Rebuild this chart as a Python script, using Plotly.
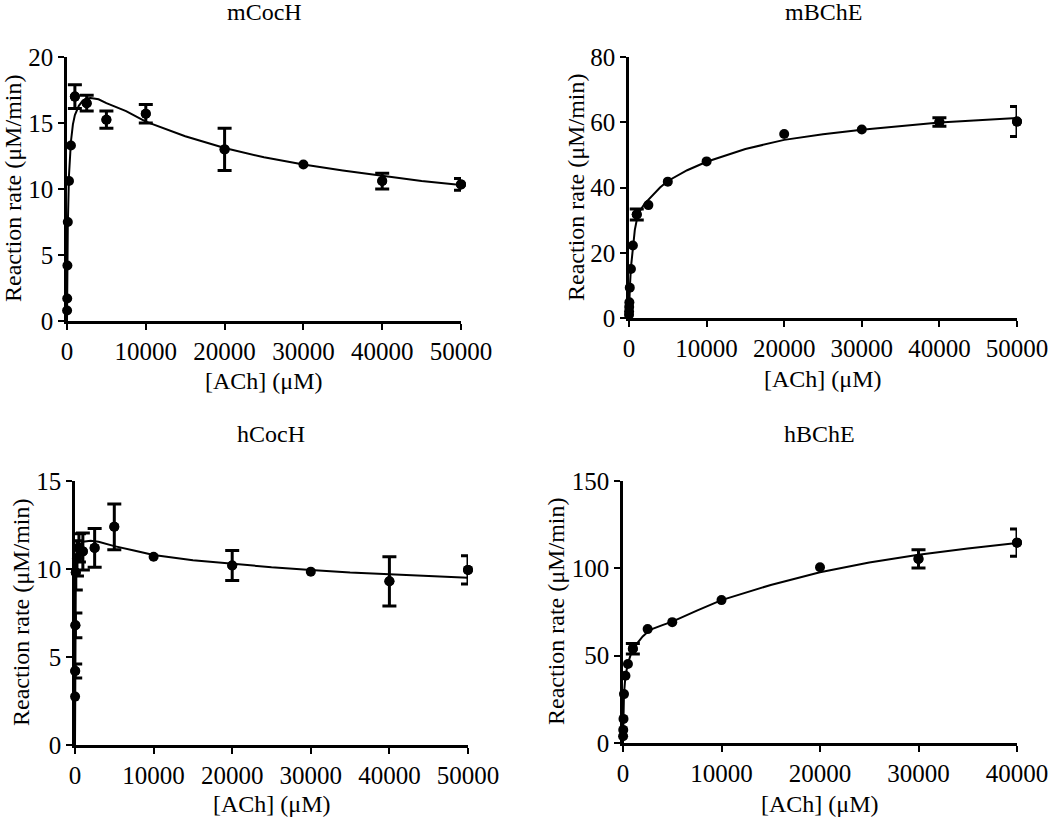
import plotly.graph_objects as go

W, H = 1050, 820
FONT = "Liberation Serif, Times New Roman, serif"

# ---------------- data ----------------
titles = ["mCocH", "mBChE", "hCocH", "hBChE"]
x_title = "[ACh] (μM)"
y_title = "Reaction rate (μM/min)"

# mCocH
mcoch_x = [10, 25, 50, 100, 250, 500, 1000, 2500, 5000, 10000, 20000, 30000, 40000, 50000]
mcoch_y = [0.8, 1.7, 4.2, 7.5, 10.6, 13.3, 17.0, 16.5, 15.25, 15.7, 13.0, 11.85, 10.6, 10.35]
mcoch_err = [None, None, None, None, None, None, 0.9, 0.6, 0.65, 0.7, 1.6, None, 0.6, 0.45]
mcoch_fit_x = [0, 10, 25, 50, 100, 250, 500, 750, 1000, 1500, 2000, 2500, 3000, 4000, 5000,
               7500, 10000, 15000, 20000, 25000, 30000, 35000, 40000, 45000, 50000]
mcoch_fit_y = [0, 0.8, 1.9, 4.0, 7.2, 11.0, 13.6, 14.9, 15.6, 16.3, 16.7, 16.85, 16.9, 16.8, 16.5,
               15.9, 15.1, 14.0, 13.1, 12.4, 11.85, 11.4, 11.0, 10.6, 10.3]

# mBChE
mbche_x = [5, 10, 25, 50, 100, 250, 500, 1000, 2500, 5000, 10000, 20000, 30000, 40000, 50000]
mbche_y = [1.0, 2.0, 3.4, 4.8, 9.3, 15.0, 22.2, 31.7, 34.6, 41.8, 48.0, 56.4, 57.8, 60.1, 60.2]
mbche_err = [None, None, None, None, None, None, None, 1.7, None, None, None, None, None, 1.3, 4.6]
mbche_fit_x = [0, 10, 25, 50, 100, 250, 500, 750, 1000, 1500, 2000, 2500, 3000, 4000, 5000,
               7500, 10000, 15000, 20000, 25000, 30000, 35000, 40000, 45000, 50000]
mbche_fit_y = [0, 1.2, 2.8, 5.2, 9.0, 15.5, 22.5, 27.0, 30.0, 33.2, 35.0, 36.3, 37.6, 40.0, 42.0,
               45.3, 47.9, 51.8, 54.6, 56.3, 57.7, 58.9, 59.9, 60.6, 61.3]

# hCocH
hcoch_x = [10, 25, 50, 100, 250, 500, 1000, 2500, 5000, 10000, 20000, 30000, 40000, 50000]
hcoch_y = [2.75, 4.2, 6.8, 9.8, 10.6, 11.2, 11.0, 11.2, 12.4, 10.7, 10.2, 9.85, 9.3, 9.95]
hcoch_err = [None, 0.4, 0.7, 1.0, 1.0, 0.8, 1.05, 1.1, 1.3, None, 0.85, None, 1.4, 0.8]
hcoch_fit_x = [0, 10, 25, 50, 100, 250, 500, 1000, 2000, 3000, 5000, 7500, 10000, 15000,
               20000, 25000, 30000, 35000, 40000, 45000, 50000]
hcoch_fit_y = [0, 2.7, 5.0, 7.2, 9.2, 10.8, 11.3, 11.55, 11.6, 11.55, 11.3, 11.05, 10.8, 10.5,
               10.3, 10.1, 9.95, 9.8, 9.7, 9.6, 9.5]

# hBChE
hbche_x = [10, 25, 50, 100, 250, 500, 1000, 2500, 5000, 10000, 20000, 30000, 40000]
hbche_y = [3.9, 7.5, 13.8, 28.0, 38.5, 45.2, 54.0, 65.2, 69.2, 81.8, 100.6, 105.4, 114.7]
hbche_err = [None, None, None, None, None, None, 3.0, None, None, None, None, 5.2, 7.8]
hbche_fit_x = [0, 10, 25, 50, 100, 250, 500, 750, 1000, 1500, 2000, 2500, 3000, 4000, 5000,
               7500, 10000, 15000, 20000, 25000, 30000, 35000, 40000]
hbche_fit_y = [0, 4, 7.8, 14, 28, 38.5, 45.5, 50, 53, 57.5, 61, 63.5, 65.3, 67.5, 69.5,
               75.8, 81.8, 90.5, 97.8, 103.3, 107.8, 111.3, 114.5]

x_ticks_50k = [0, 10000, 20000, 30000, 40000, 50000]
x_ticks_40k = [0, 10000, 20000, 30000, 40000]
y_ticks = [[0, 5, 10, 15, 20], [0, 20, 40, 60, 80], [0, 5, 10, 15], [0, 50, 100, 150]]
y_ranges = [[0, 20], [0, 80], [0, 15], [0, 150]]
x_ranges = [[0, 50000], [0, 50000], [0, 50000], [0, 40000]]

# ---------------- layout geometry (pixels) ----------------
# (x_left, x_right, y_top, y_bottom)
boxes = [(67, 461, 57, 321), (629, 1017, 57, 318), (75, 468, 481, 745), (623, 1017, 481, 743)]
title_pos = [(264, 12), (823, 12), (271, 434), (819, 434)]
xtitle_pos = [(264, 381), (823, 379), (272, 804), (820, 804)]
ytitle_pos = [(13, 189), (576, 188), (21, 613), (556, 612)]

series = [
    (mcoch_x, mcoch_y, mcoch_err, mcoch_fit_x, mcoch_fit_y),
    (mbche_x, mbche_y, mbche_err, mbche_fit_x, mbche_fit_y),
    (hcoch_x, hcoch_y, hcoch_err, hcoch_fit_x, hcoch_fit_y),
    (hbche_x, hbche_y, hbche_err, hbche_fit_x, hbche_fit_y),
]

fig = go.Figure()
layout = dict(
    width=W, height=H,
    margin=dict(l=0, r=0, t=0, b=0),
    paper_bgcolor="white", plot_bgcolor="white",
    showlegend=False,
    font=dict(family=FONT, size=24, color="black"),
)
annotations = []

for i, (sx, sy, se, fx, fy) in enumerate(series):
    n = "" if i == 0 else str(i + 1)
    xl, xr, yt, yb = boxes[i]
    xticks = x_ticks_40k if i == 3 else x_ticks_50k
    layout["xaxis" + n] = dict(
        domain=[xl / W, xr / W], anchor="y" + n, range=x_ranges[i],
        showline=True, linecolor="black", linewidth=2.5, mirror=False,
        ticks="outside", ticklen=6, tickwidth=2, tickcolor="black",
        tickvals=xticks, ticktext=[str(v) for v in xticks],
        showgrid=False, zeroline=False, automargin=False,
        tickfont=dict(family=FONT, size=25, color="black"),
    )
    layout["yaxis" + n] = dict(
        domain=[1 - yb / H, 1 - yt / H], anchor="x" + n, range=y_ranges[i],
        showline=True, linecolor="black", linewidth=2.5, mirror=False,
        ticks="outside", ticklen=6, tickwidth=2, tickcolor="black",
        tickvals=y_ticks[i], ticktext=[str(v) for v in y_ticks[i]],
        showgrid=False, zeroline=False, automargin=False,
        tickfont=dict(family=FONT, size=25, color="black"),
    )
    # fitted curve
    fig.add_trace(go.Scatter(
        x=fx, y=fy, mode="lines", line=dict(color="black", width=2),
        xaxis="x" + n, yaxis="y" + n, cliponaxis=False, hoverinfo="skip",
    ))
    # error bars only for points that show them
    ex = [a for a, e in zip(sx, se) if e is not None]
    ey = [b for b, e in zip(sy, se) if e is not None]
    ee = [e for e in se if e is not None]
    fig.add_trace(go.Scatter(
        x=ex, y=ey, mode="markers",
        marker=dict(color="black", size=10, symbol="circle"),
        error_y=dict(type="data", array=ee, visible=True, color="black",
                     thickness=3, width=7),
        xaxis="x" + n, yaxis="y" + n, cliponaxis=False,
    ))
    # all data points
    fig.add_trace(go.Scatter(
        x=sx, y=sy, mode="markers",
        marker=dict(color="black", size=10, symbol="circle"),
        xaxis="x" + n, yaxis="y" + n, cliponaxis=False,
    ))
    tx, ty = title_pos[i]
    annotations.append(dict(text=titles[i], x=tx / W, y=1 - ty / H, xref="paper", yref="paper",
                            showarrow=False, xanchor="center", yanchor="middle",
                            font=dict(family=FONT, size=24, color="black")))
    ax_, ay_ = xtitle_pos[i]
    annotations.append(dict(text=x_title, x=ax_ / W, y=1 - ay_ / H, xref="paper", yref="paper",
                            showarrow=False, xanchor="center", yanchor="middle",
                            font=dict(family=FONT, size=24, color="black")))
    bx, by = ytitle_pos[i]
    annotations.append(dict(text=y_title, x=bx / W, y=1 - by / H, xref="paper", yref="paper",
                            showarrow=False, xanchor="center", yanchor="middle", textangle=-90,
                            font=dict(family=FONT, size=24, color="black")))

layout["annotations"] = annotations
fig.update_layout(**layout)
fig.write_html(
    "out.html",
    config={"displayModeBar": False},
    post_script="document.body.style.margin='0';document.body.style.padding='0';"
                "document.body.style.overflow='hidden';",
)
